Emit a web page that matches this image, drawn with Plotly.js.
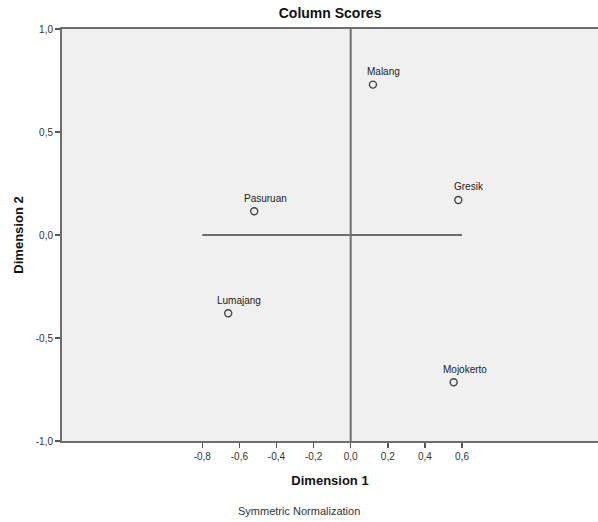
<!DOCTYPE html>
<html>
<head>
<meta charset="utf-8">
<script src="https://cdn.plot.ly/plotly-3.0.1.min.js"></script>
<style>html,body{margin:0;padding:0;background:#fff;}#chart{width:598px;height:522px;}</style>
</head>
<body>
<div id="chart"></div>
<script>
// Data
var names = ["Malang", "Gresik", "Pasuruan", "Lumajang", "Mojokerto"];
var dim1 = [0.12, 0.58, -0.52, -0.66, 0.555];
var dim2 = [0.73, 0.17, 0.115, -0.38, -0.715];
var refHX = [-0.8, 0.6];
var refHY = [0, 0];
var refVX = [0, 0];
var refVY = [-1, 1];
var xTicks = [-0.8, -0.6, -0.4, -0.2, 0.0, 0.2, 0.4, 0.6];
var xTickLabels = ["-0,8", "-0,6", "-0,4", "-0,2", "0,0", "0,2", "0,4", "0,6"];
var yTicks = [-1.0, -0.5, 0.0, 0.5, 1.0];
var yTickLabels = ["-1,0", "-0,5", "0,0", "0,5", "1,0"];

var font = "Liberation Sans, Arial, sans-serif";

var traces = [
  {x: refHX, y: refHY, mode: "lines", line: {color: "#6e6e6e", width: 2}, hoverinfo: "skip", showlegend: false},
  {x: refVX, y: refVY, mode: "lines", line: {color: "#6e6e6e", width: 2}, hoverinfo: "skip", showlegend: false},
  {x: dim1, y: dim2, mode: "markers", marker: {symbol: "circle-open", size: 7, color: "#444", line: {width: 1.4, color: "#444"}}, showlegend: false}
];

var annotations = names.map(function (n, i) {
  return {x: dim1[i], y: dim2[i], xref: "x", yref: "y", text: n, showarrow: false,
    xshift: 11, yshift: 13, font: {family: font, size: 10, color: "#222"}};
});
annotations.push({x: 0.442, y: -0.17, xref: "paper", yref: "paper", text: "Symmetric Normalization",
  showarrow: false, xanchor: "center", yanchor: "middle", font: {family: font, size: 11, color: "#333"}});

var layout = {
  width: 598, height: 522,
  margin: {l: 62, r: 0, t: 29, b: 81},
  paper_bgcolor: "#ffffff",
  plot_bgcolor: "#f0f0f0",
  title: {text: "<b>Column Scores</b>", font: {family: font, size: 14, color: "#111"}, x: 0.552, xanchor: "center", y: 0.975, yanchor: "middle"},
  xaxis: {
    range: [-1.556, 1.333], tickmode: "array", tickvals: xTicks, ticktext: xTickLabels,
    showgrid: false, zeroline: false, showline: true, mirror: true, linecolor: "#6e6e6e", linewidth: 2,
    ticks: "outside", ticklen: 5, tickwidth: 1.5, tickcolor: "#555",
    tickfont: {family: font, size: 10, color: "#333"},
    title: {text: "<b>Dimension 1</b>", font: {family: font, size: 13, color: "#111"}, standoff: 15}
  },
  yaxis: {
    range: [-1, 1], tickmode: "array", tickvals: yTicks, ticktext: yTickLabels,
    showgrid: false, zeroline: false, showline: true, linecolor: "#6e6e6e", linewidth: 2,
    ticks: "outside", ticklen: 5, tickwidth: 1.5, tickcolor: "#555",
    tickfont: {family: font, size: 10, color: "#333"},
    title: {text: "<b>Dimension 2</b>", font: {family: font, size: 13, color: "#111"}, standoff: 9}
  },
  annotations: annotations,
  showlegend: false
};

Plotly.newPlot("chart", traces, layout, {displayModeBar: false, staticPlot: true});
</script>
</body>
</html>
